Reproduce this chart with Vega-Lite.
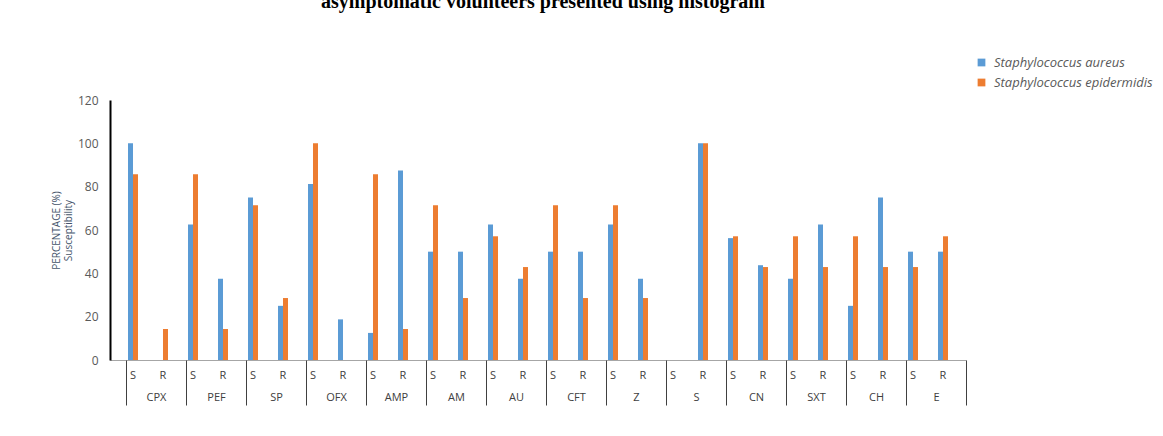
{
  "$schema": "https://vega.github.io/schema/vega-lite/v6.json",
  "autosize": {"type": "none"},
  "width": 856,
  "height": 260,
  "padding": {"left": 110, "top": 100, "right": 197, "bottom": 76},
  "background": "white",
  "title": {
    "text": "asymptomatic volunteers presented using histogram",
    "font": "Liberation Serif",
    "fontSize": 20,
    "fontWeight": "bold",
    "color": "#000000",
    "anchor": "middle",
    "frame": "group",
    "baseline": "alphabetic",
    "offset": 28,
    "dx": 5
  },
  "config": {
    "view": {"stroke": null},
    "font": "Open Sans",
    "axis": {"grid": false, "labelFont": "Open Sans", "titleFont": "Open Sans"}
  },
  "data": {
    "values": [
      {"group": "CPX", "sub": "S", "species": "Staphylococcus aureus", "value": 100},
      {"group": "CPX", "sub": "S", "species": "Staphylococcus epidermidis", "value": 85.7},
      {"group": "CPX", "sub": "R", "species": "Staphylococcus aureus", "value": 0},
      {"group": "CPX", "sub": "R", "species": "Staphylococcus epidermidis", "value": 14.3},
      {"group": "PEF", "sub": "S", "species": "Staphylococcus aureus", "value": 62.5},
      {"group": "PEF", "sub": "S", "species": "Staphylococcus epidermidis", "value": 85.7},
      {"group": "PEF", "sub": "R", "species": "Staphylococcus aureus", "value": 37.5},
      {"group": "PEF", "sub": "R", "species": "Staphylococcus epidermidis", "value": 14.3},
      {"group": "SP", "sub": "S", "species": "Staphylococcus aureus", "value": 75},
      {"group": "SP", "sub": "S", "species": "Staphylococcus epidermidis", "value": 71.4},
      {"group": "SP", "sub": "R", "species": "Staphylococcus aureus", "value": 25},
      {"group": "SP", "sub": "R", "species": "Staphylococcus epidermidis", "value": 28.6},
      {"group": "OFX", "sub": "S", "species": "Staphylococcus aureus", "value": 81.25},
      {"group": "OFX", "sub": "S", "species": "Staphylococcus epidermidis", "value": 100},
      {"group": "OFX", "sub": "R", "species": "Staphylococcus aureus", "value": 18.75},
      {"group": "OFX", "sub": "R", "species": "Staphylococcus epidermidis", "value": 0},
      {"group": "AMP", "sub": "S", "species": "Staphylococcus aureus", "value": 12.5},
      {"group": "AMP", "sub": "S", "species": "Staphylococcus epidermidis", "value": 85.7},
      {"group": "AMP", "sub": "R", "species": "Staphylococcus aureus", "value": 87.5},
      {"group": "AMP", "sub": "R", "species": "Staphylococcus epidermidis", "value": 14.3},
      {"group": "AM", "sub": "S", "species": "Staphylococcus aureus", "value": 50},
      {"group": "AM", "sub": "S", "species": "Staphylococcus epidermidis", "value": 71.4},
      {"group": "AM", "sub": "R", "species": "Staphylococcus aureus", "value": 50},
      {"group": "AM", "sub": "R", "species": "Staphylococcus epidermidis", "value": 28.6},
      {"group": "AU", "sub": "S", "species": "Staphylococcus aureus", "value": 62.5},
      {"group": "AU", "sub": "S", "species": "Staphylococcus epidermidis", "value": 57.1},
      {"group": "AU", "sub": "R", "species": "Staphylococcus aureus", "value": 37.5},
      {"group": "AU", "sub": "R", "species": "Staphylococcus epidermidis", "value": 42.9},
      {"group": "CFT", "sub": "S", "species": "Staphylococcus aureus", "value": 50},
      {"group": "CFT", "sub": "S", "species": "Staphylococcus epidermidis", "value": 71.4},
      {"group": "CFT", "sub": "R", "species": "Staphylococcus aureus", "value": 50},
      {"group": "CFT", "sub": "R", "species": "Staphylococcus epidermidis", "value": 28.6},
      {"group": "Z", "sub": "S", "species": "Staphylococcus aureus", "value": 62.5},
      {"group": "Z", "sub": "S", "species": "Staphylococcus epidermidis", "value": 71.4},
      {"group": "Z", "sub": "R", "species": "Staphylococcus aureus", "value": 37.5},
      {"group": "Z", "sub": "R", "species": "Staphylococcus epidermidis", "value": 28.6},
      {"group": "S", "sub": "S", "species": "Staphylococcus aureus", "value": 0},
      {"group": "S", "sub": "S", "species": "Staphylococcus epidermidis", "value": 0},
      {"group": "S", "sub": "R", "species": "Staphylococcus aureus", "value": 100},
      {"group": "S", "sub": "R", "species": "Staphylococcus epidermidis", "value": 100},
      {"group": "CN", "sub": "S", "species": "Staphylococcus aureus", "value": 56.25},
      {"group": "CN", "sub": "S", "species": "Staphylococcus epidermidis", "value": 57.1},
      {"group": "CN", "sub": "R", "species": "Staphylococcus aureus", "value": 43.75},
      {"group": "CN", "sub": "R", "species": "Staphylococcus epidermidis", "value": 42.9},
      {"group": "SXT", "sub": "S", "species": "Staphylococcus aureus", "value": 37.5},
      {"group": "SXT", "sub": "S", "species": "Staphylococcus epidermidis", "value": 57.1},
      {"group": "SXT", "sub": "R", "species": "Staphylococcus aureus", "value": 62.5},
      {"group": "SXT", "sub": "R", "species": "Staphylococcus epidermidis", "value": 42.9},
      {"group": "CH", "sub": "S", "species": "Staphylococcus aureus", "value": 25},
      {"group": "CH", "sub": "S", "species": "Staphylococcus epidermidis", "value": 57.1},
      {"group": "CH", "sub": "R", "species": "Staphylococcus aureus", "value": 75},
      {"group": "CH", "sub": "R", "species": "Staphylococcus epidermidis", "value": 42.9},
      {"group": "E", "sub": "S", "species": "Staphylococcus aureus", "value": 50},
      {"group": "E", "sub": "S", "species": "Staphylococcus epidermidis", "value": 42.9},
      {"group": "E", "sub": "R", "species": "Staphylococcus aureus", "value": 50},
      {"group": "E", "sub": "R", "species": "Staphylococcus epidermidis", "value": 57.1}
    ]
  },
  "transform": [{"calculate": "datum.group + '|' + datum.sub", "as": "key"}],
  "layer": [
    {
      "mark": {"type": "bar"},
      "encoding": {
        "x": {
          "field": "key",
          "type": "nominal",
          "sort": null,
          "scale": {"paddingInner": 0.6667, "paddingOuter": 0.6},
          "axis": {
            "orient": "bottom",
            "title": null,
            "labelExpr": "split(datum.value, '|')[1]",
            "labelAngle": 0,
            "labelFontSize": 11,
            "labelColor": "#404040",
            "labelPadding": 9,
            "ticks": false,
            "domainColor": "#A6A6A6",
            "domainWidth": 1
          }
        },
        "xOffset": {"field": "species", "type": "nominal"},
        "y": {
          "field": "value",
          "type": "quantitative",
          "scale": {"domain": [0, 120]},
          "axis": {
            "title": ["PERCENTAGE (%)", "Susceptibility"],
            "titleFontSize": 10,
            "titleFontWeight": "normal",
            "titleColor": "#44546A",
            "titlePadding": 4,
            "values": [0, 20, 40, 60, 80, 100, 120],
            "labelFontSize": 12,
            "labelColor": "#595959",
            "labelPadding": 12,
            "ticks": false,
            "domainColor": "#000000",
            "domainWidth": 2
          }
        },
        "color": {
          "field": "species",
          "type": "nominal",
          "scale": {
            "domain": ["Staphylococcus aureus", "Staphylococcus epidermidis"],
            "range": ["#5B9BD5", "#ED7D31"]
          },
          "legend": {
            "title": null,
            "orient": "none",
            "legendX": 865,
            "legendY": -44,
            "symbolType": "square",
            "symbolSize": 60,
            "symbolStrokeWidth": 0,
            "labelFontStyle": "italic",
            "labelFontSize": 13,
            "labelColor": "#595959",
            "labelOffset": 6,
            "rowPadding": 6
          }
        }
      }
    },
    {
      "mark": {"type": "point", "opacity": 0},
      "encoding": {
        "x": {
          "field": "group",
          "type": "nominal",
          "sort": null,
          "scale": {"paddingInner": 0, "paddingOuter": 0.1333, "align": 1},
          "axis": {
            "orient": "bottom",
            "title": null,
            "labelAngle": 0,
            "labelFontSize": 11,
            "labelColor": "#404040",
            "labelPadding": -14,
            "ticks": true,
            "tickBand": "extent",
            "tickSize": 45,
            "tickColor": "#404040",
            "domain": false
          }
        }
      }
    }
  ],
  "resolve": {"scale": {"x": "independent"}, "axis": {"x": "independent"}}
}
